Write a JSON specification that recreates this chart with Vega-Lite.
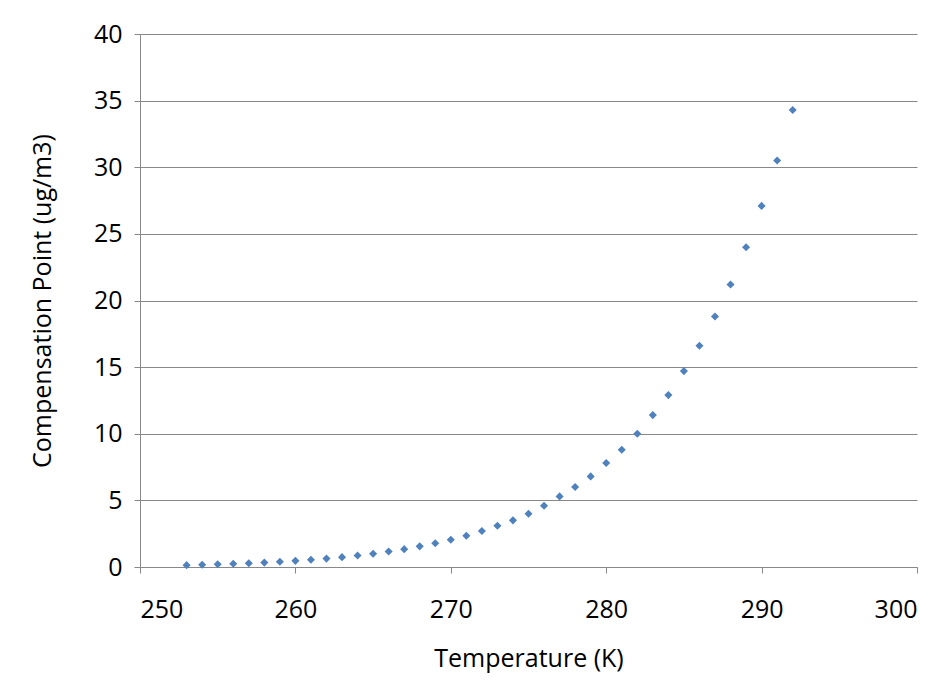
{
  "$schema": "https://vega.github.io/schema/vega-lite/v6.json",
  "width": 946,
  "height": 692,
  "autosize": {"type": "fit", "contains": "padding"},
  "padding": {"left": 30, "right": 28, "top": 22, "bottom": 21},
  "background": "white",
  "config": {"view": {"stroke": null}, "font": "Open Sans"},
  "data": {
    "values": [
      {"T": 253, "C": 0.14}, {"T": 254, "C": 0.17}, {"T": 255, "C": 0.2},
      {"T": 256, "C": 0.24}, {"T": 257, "C": 0.28}, {"T": 258, "C": 0.33},
      {"T": 259, "C": 0.39}, {"T": 260, "C": 0.46}, {"T": 261, "C": 0.54},
      {"T": 262, "C": 0.63}, {"T": 263, "C": 0.74}, {"T": 264, "C": 0.86},
      {"T": 265, "C": 1.0}, {"T": 266, "C": 1.16}, {"T": 267, "C": 1.34},
      {"T": 268, "C": 1.55}, {"T": 269, "C": 1.78}, {"T": 270, "C": 2.05},
      {"T": 271, "C": 2.35}, {"T": 272, "C": 2.7}, {"T": 273, "C": 3.1},
      {"T": 274, "C": 3.5}, {"T": 275, "C": 4.0}, {"T": 276, "C": 4.6},
      {"T": 277, "C": 5.3}, {"T": 278, "C": 6.0}, {"T": 279, "C": 6.8},
      {"T": 280, "C": 7.8}, {"T": 281, "C": 8.8}, {"T": 282, "C": 10.0},
      {"T": 283, "C": 11.4}, {"T": 284, "C": 12.9}, {"T": 285, "C": 14.7},
      {"T": 286, "C": 16.6}, {"T": 287, "C": 18.8}, {"T": 288, "C": 21.2},
      {"T": 289, "C": 24.0}, {"T": 290, "C": 27.1}, {"T": 291, "C": 30.5},
      {"T": 292, "C": 34.3}
    ]
  },
  "mark": {"type": "point", "shape": "diamond", "filled": true, "size": 65, "color": "#4F81BD", "opacity": 1},
  "encoding": {
    "x": {
      "field": "T", "type": "quantitative", "title": "Temperature (K)",
      "scale": {"domain": [250, 300], "nice": false, "zero": false},
      "axis": {"values": [250, 260, 270, 280, 290, 300], "grid": false, "ticks": true, "tickColor": "#888", "tickSize": 6, "domainColor": "#888", "labelFontSize": 25, "titleFontSize": 25, "titleFontWeight": "normal", "labelColor": "black", "titleColor": "black", "labelPadding": 24, "titlePadding": 24}
    },
    "y": {
      "field": "C", "type": "quantitative", "title": "Compensation Point (ug/m3)",
      "scale": {"domain": [0, 40], "nice": false},
      "axis": {"values": [0, 5, 10, 15, 20, 25, 30, 35, 40], "grid": true, "gridColor": "#888", "ticks": true, "tickColor": "#888", "tickSize": 6, "domainColor": "#888", "labelFontSize": 25, "titleFontSize": 25, "titleFontWeight": "normal", "labelColor": "black", "titleColor": "black", "labelPadding": 12, "titlePadding": 38}
    }
  }
}
